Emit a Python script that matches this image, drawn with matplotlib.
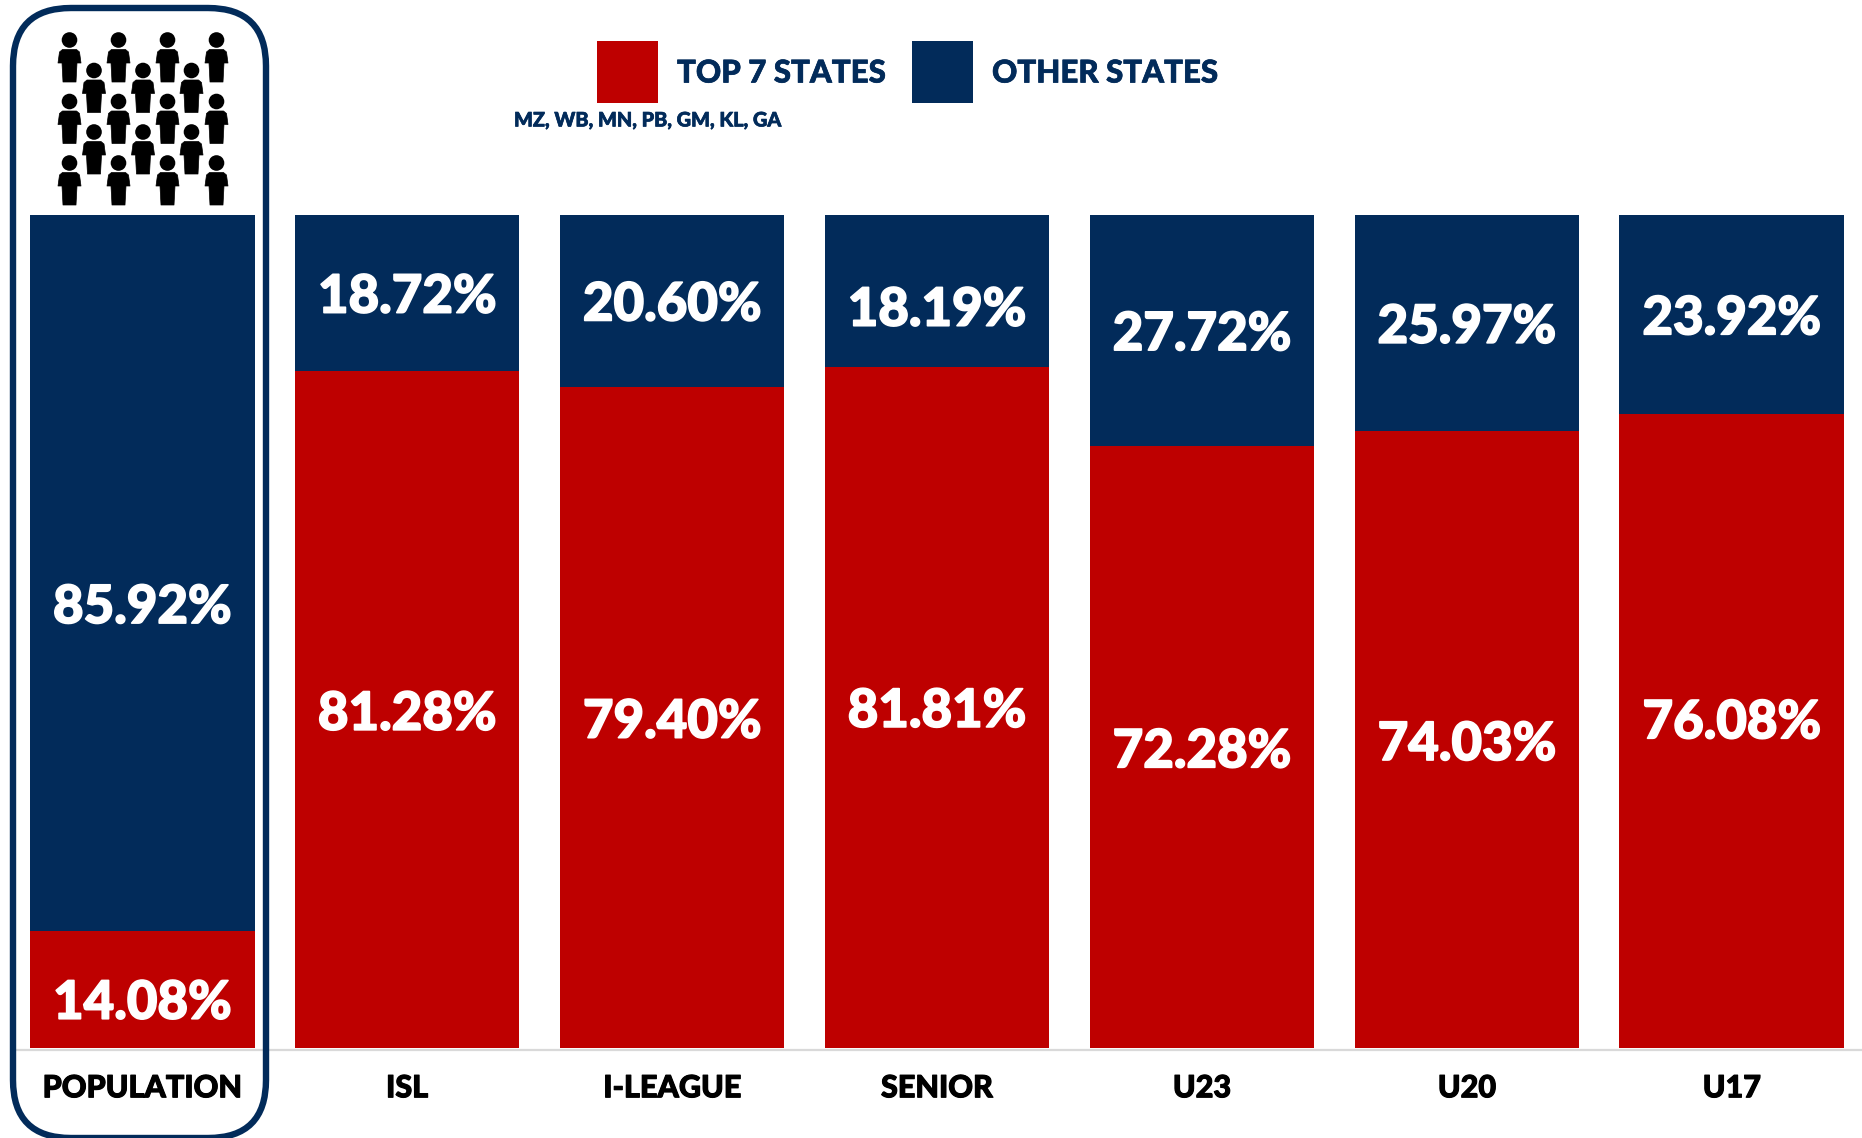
import matplotlib
matplotlib.use("Agg")
import matplotlib.pyplot as plt
import matplotlib.patheffects as pe
from matplotlib.patches import Circle, FancyBboxPatch, Polygon, Rectangle

categories = ["POPULATION", "ISL", "I-LEAGUE", "SENIOR", "U23", "U20", "U17"]
top7 = [14.08, 81.28, 79.40, 81.81, 72.28, 74.03, 76.08]
others = [85.92, 18.72, 20.60, 18.19, 27.72, 25.97, 23.92]

legend_labels = ["TOP 7 STATES", "OTHER STATES"]
legend_note = "MZ, WB, MN, PB, GM, KL, GA"

RED = "#be0000"
NAVY = "#022b5a"
W, H = 1862, 1138
FONT = "Lato"

# labels were placed by hand in the original, so they are not all centred
top7_nudge = [-10, -3.5, -3.5, -3, -3.5, -3.5, 6]
others_nudge = [-25, -3, -3, -14, -3, -3, -3]
fat_white = [pe.withStroke(linewidth=1.2, foreground="white")]
fat_black = [pe.withStroke(linewidth=0.8, foreground="black")]
fat_navy = [pe.withStroke(linewidth=0.5, foreground=NAVY)]

fig = plt.figure(figsize=(W / 100, H / 100), dpi=100, facecolor="white")

# bars axes: baseline at y=1048px, 100% at y=215px, one category = 264.9px
ax = fig.add_axes([0, (H - 1048) / H, 1, (1048 - 215) / H])
ax.set_xlim(-142.3 / 264.9, (W - 142.3) / 264.9)
ax.set_ylim(0, 100)
ax.axis("off")

xs = range(len(categories))
ax.bar(xs, top7, width=224.5 / 264.9, color=RED)
ax.bar(xs, others, width=224.5 / 264.9, bottom=top7, color=NAVY)

for i, name in enumerate(categories):
    ax.annotate(f"{top7[i]:.2f}%", (i, top7[i] / 2), xytext=(0, top7_nudge[i]), textcoords="offset points",
                ha="center", va="center", color="white", fontsize=38, family=FONT, fontweight="black",
                path_effects=fat_white)
    ax.annotate(f"{others[i]:.2f}%", (i, top7[i] + others[i] / 2), xytext=(0, others_nudge[i]),
                textcoords="offset points", ha="center", va="center", color="white", fontsize=38,
                family=FONT, fontweight="black", path_effects=fat_white)
    ax.annotate(name, (i, 0), xytext=(0, -29), textcoords="offset points", ha="center", va="center",
                color="black", fontsize=22, family=FONT, fontweight="black", annotation_clip=False,
                path_effects=fat_black)

# overlay in pixel coordinates for the frame, icons and legend
over = fig.add_axes([0, 0, 1, 1], facecolor="none")
over.set_xlim(0, W)
over.set_ylim(H, 0)
over.axis("off")

over.plot([14, W], [1049.5, 1049.5], color="#d9d9d9", lw=1.6, zorder=1)
over.add_patch(FancyBboxPatch((13, 8), 253, 1130, boxstyle="round,pad=0,rounding_size=58",
                              fc="none", ec=NAVY, lw=4.6, clip_on=False))


def person(x, y):
    over.add_patch(Circle((x, y), 7.8, fc="black", ec="none"))
    over.add_patch(Polygon([(x - 7, y + 9.5), (x + 7, y + 9.5), (x + 10, y + 12), (x + 11.5, y + 23),
                            (x + 7.5, y + 23), (x + 6.5, y + 42), (x - 6.5, y + 42), (x - 7.5, y + 23),
                            (x - 11.5, y + 23), (x - 10, y + 12)], fc="black", ec="black", lw=0.5,
                           joinstyle="round"))


for py in [40, 101.5, 163]:
    for px in [69.5, 118.5, 167.5, 216.5]:
        person(px, py)
for py in [70.5, 132]:
    for px in [94, 143, 191.5]:
        person(px, py)

over.add_patch(Rectangle((597, 41), 61, 62, fc=RED, ec="none"))
over.add_patch(Rectangle((912, 41), 61, 62, fc=NAVY, ec="none"))
over.text(677, 73.5, legend_labels[0], color=NAVY, fontsize=22.5, family=FONT, fontweight="black",
          va="center", path_effects=fat_navy)
over.text(992, 73.5, legend_labels[1], color=NAVY, fontsize=22.5, family=FONT, fontweight="black",
          va="center", path_effects=fat_navy)
over.text(514, 120, legend_note, color=NAVY, fontsize=14.3, family=FONT, fontweight="black",
          va="center", path_effects=fat_navy)

fig.savefig("out.png", dpi=100)
